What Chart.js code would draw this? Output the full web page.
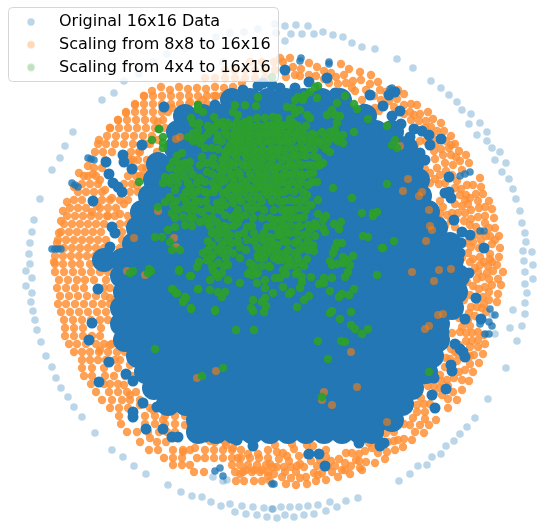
<!DOCTYPE html>
<html>
<head>
<meta charset="utf-8">
<style>html,body{margin:0;padding:0;background:#fff}canvas{display:block}</style>
<script src="https://cdn.jsdelivr.net/npm/chart.js@4"></script>
</head>
<body>
<canvas id="scatter" width="544" height="527"></canvas>
<script>
const seriesNames = ['Original 16x16 Data', 'Scaling from 8x8 to 16x16', 'Scaling from 4x4 to 16x16'];

const blueOuter = [[102,100],[114,93],[124,81],[73,132],[65,146],[60,158],[52,170],[40,199],[34,220],[32,232],[30,243],[29,254],[30,264],[139,74],[153,62],[167,54],[185,48],[203,42],[216,37],[230,33],[244,32],[258,29],[223,62],[275,24],[285,26],[296,25],[308,26],[276,33],[291,34],[302,34],[314,34],[323,32],[333,35],[343,37],[352,43],[362,47],[375,49],[285,41],[397,59],[413,68],[431,81],[441,88],[449,95],[457,102],[462,110],[471,114],[469,124],[480,123],[487,132],[477,135],[487,141],[492,148],[500,152],[495,160],[506,163],[502,172],[509,179],[513,189],[516,199],[520,211],[522,223],[525,233],[526,242],[523,251],[532,252],[524,261],[533,265],[26,271],[32,278],[26,286],[32,293],[31,302],[33,311],[35,320],[37,330],[41,342],[46,356],[52,367],[56,378],[61,388],[68,397],[74,407],[82,417],[95,433],[112,450],[123,457],[134,466],[146,474],[168,485],[181,492],[192,496],[202,497],[211,502],[221,506],[230,504],[242,506],[235,512],[246,514],[253,507],[257,515],[264,508],[267,517],[272,509],[213,477],[223,481],[227,480],[525,272],[533,279],[525,284],[527,293],[525,303],[513,310],[525,314],[522,326],[510,328],[517,341],[506,368],[488,399],[475,418],[467,427],[460,434],[454,441],[446,446],[441,454],[432,457],[427,465],[418,466],[410,474],[399,481],[358,498],[346,501],[337,507],[330,502],[326,511],[318,505],[314,514],[308,506],[304,515],[299,507],[294,517],[290,507],[285,515],[281,507],[277,518],[273,509],[495,334],[492,315]];

const blueStreaks = [[52,249],[55,249],[58,249],[61,249],[88,158],[91,159],[94,160],[72,183],[75,185],[78,187],[460,176],[465,174],[470,172],[480,231],[484,231],[485,334],[489,334],[301,58],[300,61],[329,62],[329,64],[390,89],[392,88],[215,471],[223,476],[220,468],[272,484],[274,484],[480,324],[489,322],[492,326],[490,309],[495,315]];

const blueBlobs = [[164,107],[142,145],[123,155],[106,162],[124,162],[132,169],[109,174],[113,183],[118,187],[122,192],[93,201],[112,227],[115,233],[110,247],[98,289],[92,323],[89,340],[109,362],[126,374],[99,382],[133,381],[143,403],[133,417],[133,412],[146,429],[163,429],[172,437],[178,437],[157,407],[195,435],[205,437],[237,440],[253,446],[435,408],[432,395],[446,389],[407,408],[423,379],[434,378],[452,371],[451,365],[463,352],[460,349],[465,357],[481,319],[465,319],[476,298],[460,279],[469,273],[454,302],[444,332],[455,344],[359,443],[384,443],[380,446],[309,454],[325,466],[319,454],[370,95],[389,95],[395,92],[400,111],[383,106],[364,109],[392,116],[401,124],[410,137],[414,129],[422,131],[429,135],[441,139],[430,145],[410,153],[425,160],[420,153],[449,177],[451,198],[449,192],[445,193],[454,220],[462,232],[470,235],[452,242],[461,243],[484,248],[460,253],[285,70],[327,78],[295,88],[280,88],[335,93],[309,82],[243,90],[263,83],[258,86],[272,85],[228,98],[215,105],[200,112]];

const blueCoreRows = [
  [100, [232,250,268,286,304,322,340]],
  [116, [185,203,221,239,257,275,293,311,329,347,365]],
  [132, [178,196,214,232,250,268,286,304,322,340,358,376,392]],
  [148, [176,194,212,230,248,266,284,302,320,338,356,374,392,406]],
  [164, [158,176,194,212,230,248,266,284,302,320,338,356,374,392,412]],
  [180, [155,173,191,209,227,245,263,281,299,317,335,353,371,389,407,418]],
  [196, [150,168,186,204,222,240,258,276,294,312,330,348,366,384,402,420]],
  [212, [142,160,178,196,214,232,250,268,286,304,322,340,358,376,394,412,428]],
  [228, [138,156,174,192,210,228,246,264,282,300,318,336,354,372,390,408,426,436]],
  [244, [134,152,170,188,206,224,242,260,278,296,314,332,350,368,386,404,422,440,450]],
  [260, [104,122,140,158,176,194,212,230,248,266,284,302,320,338,356,374,392,410,428,446,452]],
  [276, [122,140,158,176,194,212,230,248,266,284,302,320,338,356,374,392,410,428,446,458]],
  [292, [125,143,161,179,197,215,233,251,269,287,305,323,341,359,377,395,413,431,449,456]],
  [308, [122,140,158,176,194,212,230,248,266,284,302,320,338,356,374,392,410,428,446,452]],
  [324, [122,140,158,176,194,212,230,248,266,284,302,320,338,356,374,392,410,428,438]],
  [340, [125,143,161,179,197,215,233,251,269,287,305,323,341,359,377,395,413,431,438]],
  [356, [138,156,174,192,210,228,246,264,282,300,318,336,354,372,390,408,426,432]],
  [372, [146,164,182,200,218,236,254,272,290,308,326,344,362,380,398,416,426]],
  [388, [154,172,190,208,226,244,262,280,298,316,334,352,370,388,406,412]],
  [404, [168,186,204,222,240,258,276,294,312,330,348,366,384,402]],
  [420, [198,216,234,252,270,288,306,324,342,360,378,392]],
  [432, [198,216,234,252,270,288,306,324,342,360,372]]
];

const orangeRows = [
  [62, [250,262,274]],
  [70, [225,235,245,255,265,275]],
  [78, [205,215,225,235,245,255,265]],
  [96, [144,153,162,171,180,189,198,207,216,225]],
  [104, [135,144,153,162,171,180,189,198,207]],
  [112, [126,135,144,153,162,168]],
  [120, [118,127,136,145,154,163]],
  [128, [110,119,128,137,146,155]],
  [136, [107,116,125,134,143,152]],
  [144, [98,106,115,124,133,150]],
  [152, [95,103,112,131,140,157]],
  [160, [105,130,138,147]],
  [168, [94,102,134,142]],
  [176, [88,96,128,136,143]],
  [184, [82,90,98,124,132]],
  [192, [78,86,94,102,122,130,138]],
  [200, [74,82,102,110,120,128]],
  [208, [70,78,86,100,108,116]],
  [216, [67,75,83,91,99,107,115,128]],
  [224, [64,72,80,88,96,104,120,128]],
  [232, [61,69,77,85,93,101,122]],
  [240, [58,66,74,82,90,98,106,122]],
  [248, [64,72,80,88,96,104,120]],
  [256, [55,63,71,79,87,95]],
  [264, [55,63,72,80,90,98]],
  [272, [55,64,73,82,91,100,108]],
  [280, [59,68,77,85,94,106]],
  [288, [57,66,75,84,104,110]],
  [296, [60,69,78,87,96,105]],
  [304, [58,66,75,84,93,102,110]],
  [312, [61,70,79,88,97,106,123,126]],
  [320, [64,73,82,91,100,108]],
  [328, [65,74,83,101]],
  [336, [65,74,83,92,100]],
  [344, [69,77,86,96,104,112]],
  [352, [74,82,90,99,108,117,125]],
  [360, [82,90,98,106,115]],
  [368, [82,92,104,118]],
  [376, [84,92,105,114,125,132]],
  [384, [91,104,110,118]],
  [392, [96,109,118,127,136]],
  [400, [102,112,122,130,140]],
  [408, [110,119,128,150]],
  [416, [119,145,155,165,175,185]],
  [424, [121,145,155,165,175]],
  [432, [127,137,148,159,175,213,222]],
  [442, [140,157,166,215,225,235]],
  [450, [149,158,173,183,190,205,214,223,232,241]],
  [458, [164,173,182,197,205,214,223,232,241,250,259,268]],
  [465, [173,182,190,232,240,248,257,266]],
  [472, [194,204,235,243,252,260,268]],
  [481, [236,244,254,262,270]]
];

const orangeDots = [[161,87],[170,90],[179,87],[188,89],[197,88],[206,89],[215,87],[224,88],[233,87],[242,83],[152,91],[144,96],[135,105],[126,113],[118,120],[110,128],[99,140],[79,173],[74,187],[67,202],[63,211],[61,221],[59,233],[57,243],[54,262],[286,484],[296,485],[307,484],[316,481],[326,480],[338,477],[350,474],[362,470],[375,463],[385,459],[395,450],[403,447],[412,440],[424,433],[436,420],[448,408],[457,400],[462,390],[469,381],[473,372],[479,363],[483,354],[485,344],[282,477],[291,478],[300,478],[314,473],[322,473],[332,472],[342,470],[351,466],[366,462],[378,453],[387,452],[394,441],[404,439],[415,432],[420,425],[429,425],[425,419],[413,418],[404,424],[394,432],[386,433],[380,433],[374,437],[367,437],[369,443],[372,448],[365,451],[359,454],[352,453],[346,453],[339,459],[345,463],[359,461],[335,466],[331,461],[326,450],[326,457],[317,466],[311,461],[304,467],[297,466],[291,467],[284,467],[277,467],[273,467],[283,453],[287,456],[294,449],[307,445],[313,446],[275,445],[299,456],[279,459],[289,461],[300,464],[503,272],[497,265],[501,285],[498,294],[497,302],[492,285],[489,279],[487,273],[493,271],[480,265],[488,266],[482,277],[485,287],[477,279],[473,286],[479,289],[489,292],[483,297],[489,300],[477,300],[471,307],[477,307],[469,313],[475,316],[470,326],[464,321],[459,318],[462,327],[452,333],[460,332],[466,333],[472,333],[478,332],[472,341],[466,341],[478,347],[470,347],[474,355],[470,364],[465,370],[459,372],[462,380],[454,378],[447,380],[441,381],[440,388],[448,386],[453,392],[442,395],[448,399],[445,367],[450,359],[457,361],[451,349],[421,398],[417,405],[424,404],[425,412],[417,412],[428,386],[434,386],[480,178],[481,187],[483,194],[489,201],[492,209],[494,218],[495,228],[499,236],[500,248],[499,257],[469,163],[466,155],[459,151],[455,144],[451,136],[441,123],[433,119],[428,112],[417,105],[410,112],[404,94],[411,104],[378,82],[380,90],[371,75],[360,72],[349,69],[341,64],[331,73],[324,71],[317,67],[309,63],[301,69],[293,67],[290,58],[280,58],[283,62],[286,77],[295,75],[309,75],[336,77],[344,75],[329,83],[353,81],[346,83],[361,80],[370,84],[355,91],[362,100],[381,100],[397,99],[389,101],[375,108],[373,114],[379,111],[394,107],[404,105],[404,114],[414,115],[420,114],[426,121],[411,120],[419,121],[431,127],[437,131],[444,131],[446,141],[426,134],[426,141],[420,141],[415,145],[435,144],[434,151],[441,149],[449,148],[443,155],[451,155],[460,161],[453,165],[445,163],[435,159],[425,169],[437,168],[446,171],[430,173],[440,175],[435,179],[430,183],[439,184],[445,183],[455,188],[461,189],[467,185],[473,185],[460,195],[466,195],[470,198],[476,194],[478,201],[468,204],[462,206],[455,204],[458,213],[465,213],[471,210],[479,208],[485,207],[485,216],[478,217],[471,219],[464,221],[455,227],[440,201],[443,207],[440,213],[447,215],[440,220],[470,225],[476,227],[485,223],[489,228],[475,235],[481,240],[490,236],[492,244],[479,248],[471,247],[473,242],[490,254],[480,257],[468,253],[473,259],[490,259],[462,258],[455,249],[248,422],[246,427],[244,434],[300,434],[290,437],
  [316,76],[324,79],[338,84],[352,88],[366,90],[374,96],[386,92],[398,90],[300,76],[425,128],[432,137],[440,140],[451,145],[456,157],[462,170],[452,175],[457,181],[465,200],[452,213],[451,221],[445,226],[470,238],[465,243],[481,232],[486,236],[495,240],[484,262],[475,268],[470,262],[492,262],[498,279],[478,272],[467,282],[470,295],[464,300],[482,308],[486,312],[484,304],[468,320],[458,310],[459,345],[455,352],[446,358],[458,354],[470,356],[478,340],[484,335],[440,375],[434,393],[430,404],[410,425],[398,440],[388,442],[378,444],[360,468],[356,460],[345,470],[328,467],[318,475],[306,477],[296,472],[285,472],[274,474],[268,476],[277,452],[320,460],[307,455],[292,444],[88,166],[84,176],[93,174],[100,180],[105,190],[112,198],[97,206],[92,212],[108,216],[120,214],[124,204],[137,186],[140,176],[146,168],[133,160],[139,152],[147,144],[158,140],[165,128],[158,122],[172,108],[180,112],[190,102],[203,100],[214,96],[222,96],[232,92],[110,298],[115,300],[100,350],[110,345],[120,360],[130,365],[124,385],[130,395],[140,405],[153,410],[163,420],[185,425],[167,432],[150,438],[183,452],[195,448],[210,441],[226,445],[233,448],[248,454],[258,454],[268,450],[246,470],[254,470],[262,470],[270,464],[240,474],[238,458]];

const orangeOverBlue = [[158,211],[134,238],[174,238],[176,247],[180,137],[176,139],[408,179],[403,191],[419,196],[422,192],[429,210],[430,226],[432,230],[426,241],[145,275],[127,271],[216,371],[197,378],[412,272],[439,270],[434,281],[451,269],[438,315],[443,314],[429,326],[425,329],[351,352],[357,387],[324,392],[322,400],[332,405],[387,422],[400,146]];

const green = [[198,105],[203,112],[198,109],[214,117],[191,118],[193,123],[199,123],[159,129],[163,137],[163,143],[163,148],[152,140],[188,137],[193,133],[198,130],[198,137],[193,141],[200,143],[203,138],[205,148],[213,130],[218,123],[223,122],[228,123],[218,135],[225,130],[217,140],[230,137],[235,105],[233,112],[238,115],[245,105],[256,106],[258,97],[237,122],[245,122],[250,120],[257,118],[265,118],[273,117],[253,127],[262,127],[270,125],[278,123],[237,130],[245,130],[237,138],[245,138],[253,135],[262,135],[270,133],[277,132],[230,145],[238,145],[247,145],[255,143],[263,143],[272,142],[278,140],[225,152],[233,153],[242,152],[250,152],[258,152],[267,152],[275,150],[212,148],[213,158],[222,160],[230,162],[238,162],[247,160],[255,160],[263,160],[272,160],[278,167],[220,168],[228,170],[238,172],[247,168],[257,170],[265,168],[273,170],[217,177],[225,180],[233,178],[242,180],[252,178],[260,178],[268,178],[277,178],[218,187],[230,187],[238,187],[248,188],[258,187],[267,187],[276,187],[213,183],[182,153],[177,156],[173,162],[179,164],[185,163],[170,168],[177,170],[183,170],[190,170],[165,177],[172,177],[178,177],[185,177],[193,175],[200,178],[163,183],[170,183],[178,183],[188,183],[197,183],[205,182],[202,157],[207,163],[200,165],[207,172],[190,162],[315,87],[318,86],[310,92],[305,95],[298,97],[295,100],[303,100],[317,98],[287,107],[293,108],[300,110],[307,115],[295,113],[310,118],[337,103],[345,96],[332,110],[327,115],[335,115],[340,116],[337,123],[354,104],[357,109],[354,132],[368,119],[387,126],[395,140],[392,145],[397,148],[278,118],[290,119],[277,127],[285,125],[293,123],[283,133],[292,132],[300,130],[278,135],[280,142],[288,140],[297,138],[307,140],[315,135],[322,132],[330,132],[335,130],[343,135],[343,143],[337,135],[325,137],[332,138],[317,142],[328,142],[322,145],[308,148],[300,147],[288,148],[282,150],[293,155],[302,155],[282,160],[290,162],[298,163],[277,155],[330,152],[318,158],[323,163],[308,165],[317,166],[285,168],[295,168],[277,167],[280,178],[288,175],[297,175],[305,175],[313,173],[317,182],[308,185],[298,183],[288,185],[280,183],[333,188],[387,184],[158,207],[155,237],[162,237],[168,230],[175,227],[170,242],[172,250],[180,250],[165,202],[170,197],[175,190],[173,205],[172,213],[178,210],[185,208],[183,217],[175,218],[185,225],[193,218],[192,205],[183,197],[192,195],[190,187],[200,190],[200,202],[208,193],[215,188],[223,193],[232,188],[240,187],[250,188],[260,187],[270,188],[230,197],[238,197],[248,197],[258,197],[268,195],[277,195],[202,212],[208,208],[217,203],[225,205],[233,203],[247,207],[257,207],[200,222],[208,223],[217,222],[225,215],[235,215],[245,215],[253,218],[218,230],[228,227],[238,223],[247,227],[275,220],[267,227],[277,228],[218,238],[230,235],[238,235],[247,240],[260,238],[270,237],[278,235],[212,245],[222,245],[232,243],[240,247],[257,247],[267,247],[275,245],[203,253],[213,255],[222,253],[233,253],[258,255],[267,253],[207,260],[218,263],[228,265],[250,263],[258,258],[199,262],[197,267],[270,267],[278,260],[213,270],[222,273],[250,272],[258,273],[179,271],[191,276],[151,271],[210,280],[228,280],[218,277],[240,283],[252,275],[257,283],[265,280],[275,278],[210,290],[198,289],[218,292],[225,292],[222,297],[173,289],[177,293],[183,302],[186,298],[191,309],[215,311],[253,300],[262,302],[265,298],[266,306],[251,308],[264,312],[253,311],[273,293],[265,288],[269,266],[352,198],[362,213],[373,213],[377,212],[373,216],[318,200],[311,205],[307,195],[298,188],[288,190],[280,192],[280,202],[290,200],[300,200],[300,208],[290,210],[282,210],[318,214],[326,216],[323,220],[315,223],[308,225],[304,217],[297,218],[288,217],[280,220],[290,225],[297,227],[282,228],[323,228],[325,232],[312,228],[290,233],[303,235],[315,236],[280,235],[334,224],[339,229],[341,222],[363,236],[368,237],[394,241],[383,248],[382,248],[295,243],[287,242],[278,245],[304,246],[313,245],[314,251],[337,243],[342,243],[335,248],[333,253],[295,253],[285,253],[278,253],[307,259],[330,261],[337,264],[332,265],[343,257],[353,256],[350,265],[347,260],[343,263],[348,272],[345,277],[300,263],[294,265],[282,260],[290,260],[283,270],[298,272],[302,277],[302,282],[280,278],[311,277],[324,278],[332,278],[324,283],[319,284],[377,275],[283,287],[300,288],[354,289],[330,291],[342,294],[349,295],[339,297],[291,292],[289,294],[309,296],[304,300],[297,307],[332,311],[330,313],[351,312],[340,319],[351,325],[355,329],[362,334],[368,329],[341,341],[345,342],[318,341],[328,359],[322,397],[429,372],[155,349],[202,376],[223,368],[236,330],[254,330],[215,310],[191,308],[183,301],[185,297],[172,289],[176,293],[198,289],[190,276],[179,270],[133,271],[130,273],[149,269],[148,273],[139,182],[159,129],[272,77],[198,105]];

const greenRows = [
  [126, [208,216,224,232,241,249,258,266,274,282,290,298,306]],
  [134, [208,226,234,241,249,258,266,274,288,296,304,312]],
  [141, [222,234,241,250,259,268,284,292,302,312,320,338]],
  [149, [218,228,236,244,254,262,271,278,294,304,314,326]],
  [156, [226,236,246,254,262,270,286,296,306,314]],
  [165, [214,224,234,243,252,260,270,290,302,312,320]],
  [174, [212,222,231,240,250,259,266,275,284,292,301,309]],
  [182, [222,234,246,256,264,273,284,292,302,312]],
  [192, [186,196,205,214,226,236,244,254,264,274,284,294,303]],
  [201, [176,186,196,206,222,241,252,262,272,284,295,305]],
  [210, [190,196,214,220,238,252,264,274,286,294,306]],
  [218, [190,206,212,232,240,262,270,284,292,300]],
  [226, [192,210,224,234,252,272,284,300,316]],
  [233, [212,224,244,254,264,286,296,308]],
  [241, [208,226,238,254,264,272,284,298,308]],
  [250, [208,218,228,246,262,272,288,300,308]],
  [258, [210,226,240,264,274,288,298]],
  [266, [212,224,254,262,288,304]],
  [274, [216,248,256,286,296]]
];

const toPoints = list => list.map(([x, y]) => ({ x, y }));
const fromRows = rows => rows.flatMap(([y, xs]) => xs.map(x => ({ x, y })));

function legendDot(color) {
  const c = document.createElement('canvas');
  c.width = c.height = 10;
  const g = c.getContext('2d');
  g.fillStyle = color;
  g.beginPath();
  g.arc(5, 5, 3.7, 0, Math.PI * 2);
  g.fill();
  return c;
}
const legendColors = ['rgba(31,119,180,0.3)', 'rgba(255,127,14,0.3)', 'rgba(44,160,44,0.3)'];

const legendOnTop = {
  id: 'legendOnTop',
  beforeLayout(chart) {
    const legend = chart.legend;
    legend._layers = () => [{
      z: 10,
      draw() {
        const ctx = chart.ctx;
        ctx.save();
        ctx.beginPath();
        ctx.roundRect(8.5, 7.5, 270, 74, 4);
        ctx.fillStyle = 'rgba(255,255,255,0.8)';
        ctx.fill();
        ctx.strokeStyle = 'rgba(204,204,204,0.8)';
        ctx.lineWidth = 1;
        ctx.stroke();
        ctx.translate(4.3, 7.3);
        legend.draw();
        ctx.restore();
      }
    }];
  }
};

const dotSet = (label, data, color, radius, order) => ({
  label, data, order,
  backgroundColor: color,
  pointRadius: radius,
  pointBorderWidth: 0
});

new Chart(document.getElementById('scatter').getContext('2d'), {
  type: 'scatter',
  plugins: [legendOnTop],
  data: {
    datasets: [
      dotSet(seriesNames[2], toPoints(green).concat(fromRows(greenRows)), 'rgba(44,160,44,0.92)', 4.3, 1),
      dotSet(seriesNames[1] + ' (over core)', toPoints(orangeOverBlue), 'rgba(255,127,14,0.6)', 4, 2),
      dotSet(seriesNames[0] + ' (core)', fromRows(blueCoreRows), '#2377b4', 12, 3),
      dotSet(seriesNames[0] + ' (blobs)', toPoints(blueBlobs), '#2377b4', 5.5, 4),
      dotSet(seriesNames[0] + ' (streaks)', toPoints(blueStreaks), 'rgba(31,119,180,0.8)', 3.8, 5),
      dotSet(seriesNames[1], fromRows(orangeRows).concat(toPoints(orangeDots)), 'rgba(255,145,55,0.85)', 4.2, 6),
      dotSet(seriesNames[0], toPoints(blueOuter), 'rgba(31,119,180,0.3)', 3.8, 7)
    ]
  },
  options: {
    responsive: false,
    animation: false,
    events: [],
    layout: { padding: 0, autoPadding: false },
    scales: {
      x: { type: 'linear', display: false, min: 0, max: 544 },
      y: { type: 'linear', display: false, min: 0, max: 527, reverse: true }
    },
    plugins: {
      tooltip: { enabled: false },
      legend: {
        position: 'chartArea',
        align: 'start',
        labels: {
          usePointStyle: true,
          pointStyleWidth: 40,
          padding: 6.7,
          color: '#000',
          font: { family: '"DejaVu Sans"', size: 16 },
          generateLabels: () => seriesNames.map((text, i) => ({
            text,
            fontColor: '#000',
            fillStyle: legendColors[i],
            strokeStyle: legendColors[i],
            lineWidth: 0,
            hidden: false,
            pointStyle: legendDot(legendColors[i])
          }))
        }
      }
    }
  }
});
</script>
</body>
</html>
